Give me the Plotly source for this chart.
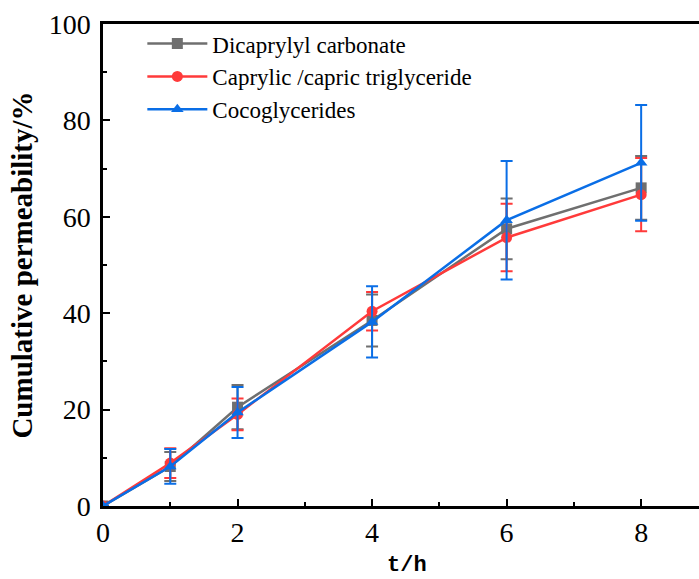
import plotly.graph_objects as go

t = [0, 1, 2, 4, 6, 8]
dicaprylyl = [0, 8.2, 20.5, 38.5, 57.5, 66.0]
dicaprylyl_err = [0, 3.0, 4.6, 5.4, 6.3, 6.6]
caprylic = [0, 8.9, 19.0, 40.4, 55.7, 64.6]
caprylic_err = [0, 3.1, 3.3, 4.0, 7.0, 7.6]
coco = [0, 8.2, 19.4, 38.2, 59.3, 71.2]
coco_err = [0, 3.6, 5.3, 7.4, 12.3, 12.0]

names = ["Dicaprylyl carbonate", "Caprylic /capric triglyceride", "Cocoglycerides"]
colors = ["#6F6F6F", "#FF3A3A", "#0A6EE6"]
symbols = ["square", "circle", "triangle-up"]
series = [(dicaprylyl, dicaprylyl_err), (caprylic, caprylic_err), (coco, coco_err)]

fig = go.Figure()
for (y, e), n, c, s in zip(series, names, colors, symbols):
    fig.add_trace(go.Scatter(
        x=t, y=y, name=n, mode="lines+markers",
        line=dict(color=c, width=2.5),
        marker=dict(symbol=s, size=11, color=c),
        error_y=dict(type="data", array=e, visible=True, color=c, thickness=2, width=6),
    ))

font = "Liberation Serif, Times New Roman, serif"
fig.update_layout(
    width=699, height=579,
    margin=dict(l=103, r=0, t=24, b=73),
    plot_bgcolor="white", paper_bgcolor="white",
    font=dict(family=font, color="black"),
    showlegend=True,
    legend=dict(x=0.066, y=1.004, xanchor="left", yanchor="top",
                font=dict(size=23, family=font), itemwidth=60,
                bgcolor="rgba(0,0,0,0)", tracegroupgap=0),
    xaxis=dict(range=[0, 8.86], tickmode="linear", tick0=0, dtick=2,
               ticks="inside", ticklen=7, tickwidth=2, tickcolor="black",
               minor=dict(ticks="inside", ticklen=4, tickwidth=2, dtick=1, tickcolor="black"),
               showline=True, linewidth=2.5, linecolor="black", mirror=True,
               showgrid=False, zeroline=False, automargin=False,
               tickfont=dict(size=28, family=font)),
    yaxis=dict(range=[0, 100], tickmode="linear", tick0=0, dtick=20,
               ticks="inside", ticklen=7, tickwidth=2, tickcolor="black",
               minor=dict(ticks="inside", ticklen=4, tickwidth=2, dtick=10, tickcolor="black"),
               showline=True, linewidth=2.5, linecolor="black", mirror=False,
               showgrid=False, zeroline=False, ticklabelstandoff=4, automargin=False,
               tickfont=dict(size=28, family=font),
               title=dict(text="<b>Cumulative permeability/%</b>", font=dict(size=29, family=font), standoff=8)),
    annotations=[dict(text="<b>t/h</b>", xref="paper", yref="paper", x=0.51, y=-0.123,
                      xanchor="center", yanchor="middle", showarrow=False,
                      font=dict(size=22, family="Liberation Mono, monospace", color="black"))],
)

fig.write_html("out.html")
